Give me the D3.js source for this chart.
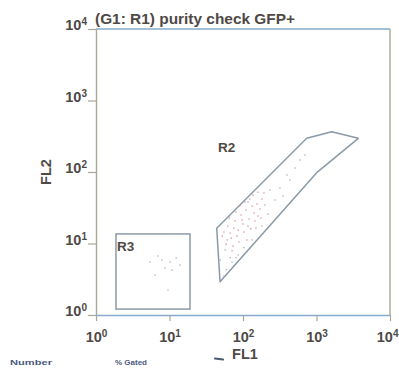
<!DOCTYPE html>
<html>
<head>
<meta charset="utf-8">
<script src="https://cdn.jsdelivr.net/npm/d3@7"></script>
<style>
  html, body { margin: 0; padding: 0; background: #fff; }
  svg { display: block; }
  text { font-family: "Liberation Sans", Arial, sans-serif; }
</style>
</head>
<body>
<svg id="chart" width="399" height="369"></svg>
<script>
// Decade ticks on both log axes (value, exponent label)
const tickValues = [1, 10, 100, 1000, 10000];
const tickExponents = ["0", "1", "2", "3", "4"];

// Gate R3: rectangle in FL1 / FL2 units
const gateR3 = { x0: 1.87, x1: 19, y0: 1.21, y1: 13.6 };

// Gate R2: polygon vertices [FL1, FL2]
const gateR2 = [
  [43.9, 16.3], [48.7, 2.92], [1006, 97.8],
  [3706, 296], [1610, 366], [736, 296]
];

// Gated (R1 & GFP+) events shown in red
const eventsRed = [
  [55, 14.5], [62, 17.6], [69, 11.9], [78, 20.6], [86, 15.4], [94, 25.0],
  [100, 18.7], [110, 29.4], [121, 22.0], [133, 33.5], [141, 26.7], [155, 35.7],
  [170, 30.4], [181, 41.9], [59, 9.8], [73, 9.2], [83, 12.7], [103, 14.5],
  [117, 17.6], [128, 16.0], [146, 20.6], [160, 24.2], [65, 22.7], [80, 27.6],
  [91, 33.5], [106, 38.0], [124, 41.9], [137, 47.7], [193, 50.8], [71, 7.9],
  [88, 10.5], [52, 12.7], [113, 11.2], [150, 16.5], [97, 21.3], [75, 16.5],
  [61, 11.2], [176, 22.7], [199, 34.5], [67, 14.0]
];

// Remaining events shown in grey
const eventsGrey = [
  [49, 5.9], [59, 4.3], [67, 6.3], [86, 6.9], [103, 8.7], [133, 11.2],
  [181, 17.6], [219, 25.9], [272, 40.6], [318, 59.7], [397, 90.8], [510, 114],
  [597, 147], [233, 56.0], [160, 52], [117, 38], [436, 77.3], [57, 8.1],
  [71, 5.5], [55, 3.5], [80, 6.3], [698, 173], [350, 46.1],
  // events in R3
  [5.43, 5.51], [6.98, 6.68], [8.68, 4.54], [10.2, 5.51], [12.3, 6.27],
  [13.9, 5.00], [6.35, 3.63], [10.8, 4.26], [7.90, 5.88], [9.55, 2.24]
];

const svg = d3.select("#chart");

const x = d3.scaleLog().domain([1, 10000]).range([96, 390]);
const y = d3.scaleLog().domain([1, 10000]).range([315, 29]);

const textColor = "#4f4946";
const blueLine = "#86aacb";
const greyLine = "#a7a897";
const gateColor = "#8a9aa8";

// Plot frame: top and right borders
svg.append("line")
  .attr("x1", x(1)).attr("x2", x(10000))
  .attr("y1", y(10000)).attr("y2", y(10000))
  .attr("stroke", blueLine).attr("stroke-width", 1.4);
svg.append("line")
  .attr("x1", x(10000)).attr("x2", x(10000))
  .attr("y1", y(10000)).attr("y2", y(1))
  .attr("stroke", greyLine).attr("stroke-width", 1.4);

// Exponent-style tick label: "10" with a raised digit
function powerLabel(sel, i) {
  sel.append("tspan").text("10");
  sel.append("tspan").attr("font-size", 10).attr("dy", "-0.5em").text(tickExponents[i]);
}

// Y axis
const yAxis = svg.append("g")
  .attr("transform", `translate(${x(1)},0)`)
  .call(d3.axisLeft(y).tickValues(tickValues).tickFormat("").tickSize(8).tickSizeOuter(0));
yAxis.select(".domain").attr("stroke", greyLine).attr("stroke-width", 1.4);
yAxis.selectAll(".tick line").attr("stroke", greyLine).attr("stroke-width", 1.2);
yAxis.selectAll(".tick").each(function(d, i) {
  const t = d3.select(this).append("text")
    .attr("x", -9).attr("y", 0).attr("dy", "0.05em")
    .attr("text-anchor", "end")
    .attr("fill", textColor)
    .attr("font-size", 14.5).attr("font-weight", "bold");
  powerLabel(t, i);
});

// X axis
const xAxis = svg.append("g")
  .attr("transform", `translate(0,${y(1)})`)
  .call(d3.axisBottom(x).tickValues(tickValues).tickFormat("").tickSize(6).tickSizeOuter(0));
xAxis.select(".domain").attr("stroke", blueLine).attr("stroke-width", 1.4);
xAxis.selectAll(".tick line").attr("stroke", greyLine).attr("stroke-width", 1.2);
xAxis.selectAll(".tick").each(function(d, i) {
  const last = i === tickValues.length - 1;
  const t = d3.select(this).append("text")
    .attr("x", last ? 8 : 0).attr("y", 27)
    .attr("text-anchor", last ? "end" : "middle")
    .attr("fill", textColor)
    .attr("font-size", 14.5).attr("font-weight", "bold");
  powerLabel(t, i);
});

// Title
svg.append("text")
  .attr("x", 95).attr("y", 24)
  .attr("fill", textColor)
  .attr("font-size", 14.5).attr("font-weight", "bold")
  .attr("textLength", 200).attr("lengthAdjust", "spacingAndGlyphs")
  .text("(G1: R1) purity check GFP+");

// Axis titles
svg.append("text")
  .attr("transform", "translate(51,172) rotate(-90)")
  .attr("text-anchor", "middle")
  .attr("fill", textColor)
  .attr("font-size", 14.5).attr("font-weight", "bold")
  .text("FL2");
svg.append("text")
  .attr("x", 245).attr("y", 359)
  .attr("text-anchor", "middle")
  .attr("fill", textColor)
  .attr("font-size", 14.5).attr("font-weight", "bold")
  .text("FL1");
svg.append("line")
  .attr("x1", 215).attr("x2", 223).attr("y1", 358.5).attr("y2", 359.5)
  .attr("stroke", "#4a5a70").attr("stroke-width", 2.2).attr("stroke-linecap", "round");

// Gate R3
svg.append("rect")
  .attr("x", x(gateR3.x0)).attr("y", y(gateR3.y1))
  .attr("width", x(gateR3.x1) - x(gateR3.x0))
  .attr("height", y(gateR3.y0) - y(gateR3.y1))
  .attr("fill", "none").attr("stroke", gateColor).attr("stroke-width", 1.5);
svg.append("text")
  .attr("x", x(gateR3.x0) + 1).attr("y", y(gateR3.y1) + 17)
  .attr("fill", textColor).attr("font-size", 13.5).attr("font-weight", "bold")
  .text("R3");

// Gate R2
const line = d3.line().x(d => x(d[0])).y(d => y(d[1])).curve(d3.curveLinearClosed);
svg.append("path")
  .attr("d", line(gateR2))
  .attr("fill", "none").attr("stroke", gateColor).attr("stroke-width", 1.5)
  .attr("stroke-linejoin", "round");
svg.append("text")
  .attr("x", 218).attr("y", 152)
  .attr("fill", textColor).attr("font-size", 13.5).attr("font-weight", "bold")
  .text("R2");

// Events
svg.append("g").selectAll("circle").data(eventsGrey).join("circle")
  .attr("cx", d => x(d[0])).attr("cy", d => y(d[1]))
  .attr("r", 0.75).attr("fill", "#a8a8a8");
svg.append("g").selectAll("circle").data(eventsRed).join("circle")
  .attr("cx", d => x(d[0])).attr("cy", d => y(d[1]))
  .attr("r", 0.8).attr("fill", "#e0909c");

// Statistics header row along the lower edge
svg.append("text")
  .attr("x", 10).attr("y", 365)
  .attr("fill", "#4a5a80").attr("font-size", 7).attr("font-weight", "bold")
  .attr("textLength", 42).attr("lengthAdjust", "spacingAndGlyphs")
  .text("Number");
svg.append("text")
  .attr("x", 115).attr("y", 365)
  .attr("fill", "#4a5a80").attr("font-size", 7).attr("font-weight", "bold")
  .attr("textLength", 32).attr("lengthAdjust", "spacingAndGlyphs")
  .text("% Gated");
</script>
</body>
</html>
